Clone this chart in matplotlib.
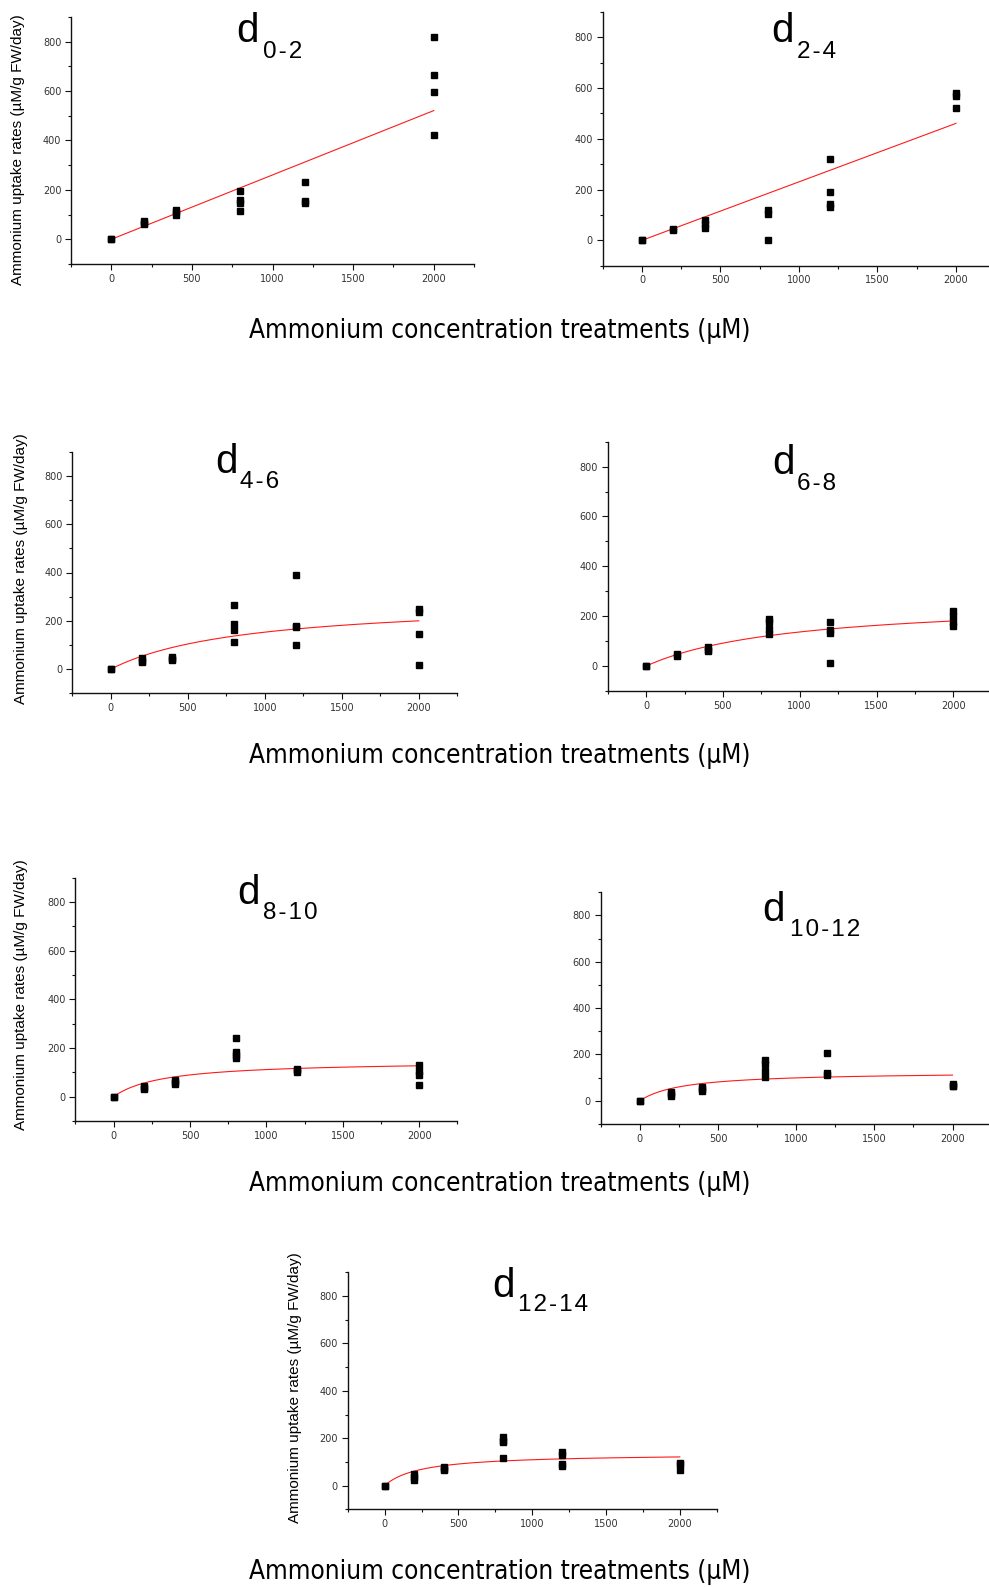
import numpy as np
import matplotlib
matplotlib.use("Agg")
import matplotlib.pyplot as plt
from matplotlib.ticker import MultipleLocator

W, H = 989, 1587

# ---------------- data ----------------
conc_levels = [0, 200, 400, 800, 1200, 2000]

period_labels = ["0-2", "2-4", "4-6", "6-8", "8-10", "10-12", "12-14"]

rates_d0_2 = [[0, 0], [60, 68, 75], [100, 110, 120], [115, 145, 160, 197],
              [145, 155, 232], [424, 597, 666, 818]]
rates_d2_4 = [[0, 0], [40, 45], [50, 65, 80], [0, 105, 118],
              [133, 145, 190, 320], [520, 568, 580]]
rates_d4_6 = [[0, 0], [30, 35, 45], [36, 42, 50], [113, 163, 188, 264],
              [101, 174, 180, 388], [19, 147, 235, 248]]
rates_d6_8 = [[0, 0], [40, 50], [60, 65, 75], [130, 150, 175, 190],
              [13, 134, 145, 176], [162, 175, 200, 222]]
rates_d8_10 = [[0, 0], [30, 35, 45], [52, 60, 70], [160, 172, 185, 243],
               [100, 108, 115], [48, 90, 105, 130]]
rates_d10_12 = [[0, 0], [22, 30, 40], [42, 50, 60], [102, 130, 160, 178],
                [110, 118, 208], [62, 65, 72]]
rates_d12_14 = [[0, 0], [25, 35, 50], [65, 70, 80], [117, 185, 190, 203],
                [82, 90, 128, 140], [65, 90, 95]]

all_rates = [rates_d0_2, rates_d2_4, rates_d4_6, rates_d6_8,
             rates_d8_10, rates_d10_12, rates_d12_14]

# fitted models: ("linear", slope) or ("mm", Vmax, Km)
fits = [("linear", 0.2605), ("linear", 0.2305),
        ("mm", 288.4, 884), ("mm", 267.0, 951),
        ("mm", 147.6, 325), ("mm", 126.2, 274), ("mm", 135.8, 245)]

ylabel_text = "Ammonium uptake rates (\u00b5M/g FW/day)"
xlabel_text = "Ammonium concentration treatments (\u00b5M)"

# ---------------- layout (pixels) ----------------
# left, top, width, bottom
axes_px = [
    (71.0, 17.0, 403.0, 264.0),
    (602.7, 12.0, 392.5, 265.7),
    (72.3, 451.7, 385.0, 693.3),
    (607.7, 441.7, 384.0, 691.0),
    (75.4, 877.7, 382.0, 1121.0),
    (600.7, 892.3, 390.9, 1124.0),
    (347.7, 1272.3, 369.0, 1509.3),
]
title_px = [  # d_left, d_base, sub_left, sub_base
    (236, 42, 263, 58),
    (771, 42, 797, 58),
    (215, 473, 240, 488),
    (772, 474, 797, 490),
    (237, 904, 263, 919),
    (762, 921, 790, 936),
    (492, 1297, 518, 1311),
]
ylabel_px = [(18, 150), None, (21, 569), None, (21, 995), None, (295, 1388)]
xlabel_y = [331, 756, 1184, 1572]

fig = plt.figure(figsize=(W / 100, H / 100), dpi=100)


def fx(x):
    return x / W


def fy(y):
    return 1 - y / H


for i, rates in enumerate(all_rates):
    l, t, w, b = axes_px[i]
    ax = fig.add_axes([fx(l), fy(b), w / W, (b - t) / H])
    xs, ys = [], []
    for c, vals in zip(conc_levels, rates):
        for v in vals:
            xs.append(c)
            ys.append(v)
    ax.plot(xs, ys, linestyle="none", marker="s", markersize=4.8,
            color="black", zorder=3)
    xc = np.linspace(0, 2000, 300)
    f = fits[i]
    if f[0] == "linear":
        yc = f[1] * xc
    else:
        yc = f[1] * xc / (f[2] + xc)
    ax.plot(xc, yc, color="#ff1a1a", lw=0.8, zorder=2)

    ax.set_xlim(-250, 2250)
    ax.set_ylim(-100, 900)
    ax.xaxis.set_major_locator(MultipleLocator(500))
    ax.xaxis.set_minor_locator(MultipleLocator(250))
    ax.yaxis.set_major_locator(MultipleLocator(200))
    ax.yaxis.set_minor_locator(MultipleLocator(100))
    ax.set_yticks([0, 200, 400, 600, 800])
    for s in ("top", "right"):
        ax.spines[s].set_visible(False)
    for s in ("left", "bottom"):
        ax.spines[s].set_linewidth(1.0)
        ax.spines[s].set_color("#111111")
    ax.tick_params(which="major", direction="out", length=4, width=0.8,
                   labelsize=7, pad=3, colors="#111111", labelcolor="#333333")
    ax.tick_params(which="minor", direction="out", length=2.5, width=0.8,
                   colors="#111111")
    ax.patch.set_alpha(0)

    dl, db, sl, sb = title_px[i]
    fig.text(fx(dl), fy(db), "d", fontsize=29, family="Liberation Sans",
             ha="left", va="baseline")
    sub = "\u200a".join(period_labels[i])
    fig.text(fx(sl), fy(sb), sub, fontsize=17.5,
             family=["Liberation Sans", "DejaVu Sans"], ha="left",
             va="baseline")

    if ylabel_px[i] is not None:
        yx, yy = ylabel_px[i]
        fig.text(fx(yx), fy(yy), ylabel_text, rotation=90, fontsize=11,
                 family="Liberation Sans", ha="center", va="center")

for yv in xlabel_y:
    fig.text(fx(500), fy(yv), xlabel_text, fontsize=18.7,
             family="DejaVu Sans", fontstretch="condensed",
             ha="center", va="center")

fig.savefig("out.png", dpi=100, facecolor="white")
